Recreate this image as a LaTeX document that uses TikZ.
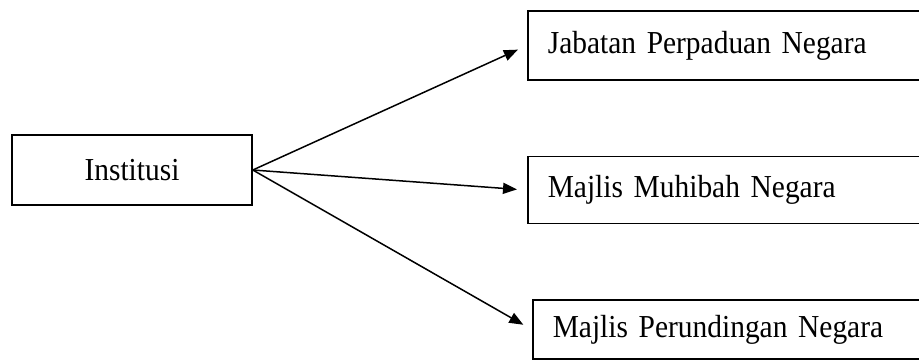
\documentclass[tikz,border=0pt]{standalone}
\usepackage{fontspec}
\setmainfont[FakeStretch=0.92]{Liberation Serif}
\usetikzlibrary{positioning,arrows.meta}

\tikzset{
  box/.style={draw, line width=1.6pt, fill=white, inner xsep=20pt, font=\fontsize{32}{38}\selectfont},
  wide/.style={box, text width=390pt, align=left},
  arr/.style={-{Triangle[length=14pt,width=11pt]}, line width=1.5pt, shorten >=10pt}
}

\begin{document}
\begin{tikzpicture}[x=1pt, y=-1pt]
  			\clip (0,0) rectangle (919,360);
  			% Define nodes
  			\node[box, minimum width=240pt, minimum height=70pt]   (inst) at (132,170) {Institusi};
  			\node[wide, anchor=west, minimum height=69pt]          (jpn) at (527,45.5) {Jabatan Perpaduan Negara};
 			\node[wide, below=75pt of jpn, minimum height=67pt]    (mmn) {Majlis Muhibah Negara};
 			\node[wide, below=75pt of mmn, xshift=5pt, minimum height=59pt] (mpn) {Majlis Perundingan Negara};

  			% Connect the nodes
 		    \draw[arr] (inst.east) -- (jpn.west);
  			\draw[arr] (inst.east) -- (mmn.west);
 			\draw[arr] (inst.east) -- (mpn.west);
		\end{tikzpicture}
\end{document}
